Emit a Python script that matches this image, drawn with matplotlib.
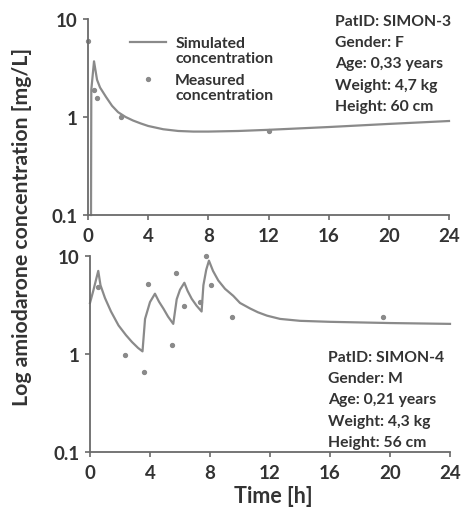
import numpy as np
import matplotlib
matplotlib.use("Agg")
import matplotlib.pyplot as plt

# SIMON-3: simulated curve and measured points
t_sim3 = [0.2, 0.22, 0.4, 0.6, 0.8, 1.2, 1.6, 2.0, 2.5, 3.0, 3.5, 4.0, 5.0, 6.0,
          7.0, 8.0, 10.0, 12.0, 16.0, 20.0, 24.0]
c_sim3 = [0.1, 1.9, 3.7, 2.4, 2.0, 1.6, 1.3, 1.12, 1.0, 0.92, 0.86, 0.81, 0.75,
          0.72, 0.71, 0.71, 0.72, 0.74, 0.79, 0.85, 0.91]
t_meas3 = [0.0, 0.4, 0.58, 2.2, 12.0]
c_meas3 = [5.9, 1.9, 1.55, 1.0, 0.72]

# SIMON-4: repeated dosing
t_sim4 = [0.0, 0.22, 0.55, 0.7, 1.0, 1.4, 1.9, 2.4, 2.8, 3.2, 3.5,
          3.67, 4.0, 4.33, 4.6, 4.9, 5.2, 5.55,
          5.78, 6.0, 6.29, 6.5, 6.78, 7.1, 7.44,
          7.56, 7.75, 7.93, 8.2, 8.55, 9.0, 9.55, 10.0, 10.67, 11.2, 11.8,
          12.67, 14.0, 16.0, 20.0, 24.0]
c_sim4 = [3.3, 4.4, 7.0, 5.0, 3.7, 2.7, 1.95, 1.55, 1.32, 1.15, 1.06,
          2.27, 3.37, 4.1, 3.4, 2.88, 2.4, 2.02,
          3.6, 4.5, 5.3, 4.4, 3.64, 3.1, 2.7,
          5.0, 7.2, 8.9, 7.0, 5.6, 4.6, 3.9, 3.3, 2.9, 2.65, 2.45,
          2.27, 2.17, 2.12, 2.06, 2.02]
t_meas4 = [0.55, 2.33, 3.6, 3.84, 5.49, 5.71, 6.27, 7.33, 7.71, 8.07, 9.45, 19.5]
c_meas4 = [4.8, 0.98, 0.66, 5.2, 1.22, 6.6, 3.1, 3.4, 10.0, 5.0, 2.37, 2.4]

info3 = ["PatID: SIMON-3", "Gender: F", "Age: 0,33 years", "Weight: 4,7 kg",
         "Height: 60 cm"]
info4 = ["PatID: SIMON-4", "Gender: M", "Age: 0,21 years", "Weight: 4,3 kg",
         "Height: 56 cm"]

xticks = [0, 4, 8, 12, 16, 20, 24]
yticks = [0.1, 1, 10]
ytick_labels = ["0.1", "1", "10"]

line_col = "#8a8a8a"
axis_col = "#6a6a6a"
text_col = "#333333"
font = "Lato"

W, H = 467, 510
fig = plt.figure(figsize=(W / 100, H / 100), dpi=100)


def px_axes(x0, y0, x1, y1):
    return fig.add_axes([x0 / W, 1 - y1 / H, (x1 - x0) / W, (y1 - y0) / H])


def style(ax):
    ax.set_yscale("log")
    ax.set_xlim(0, 24)
    ax.set_ylim(0.1, 10)
    ax.set_xticks(xticks)
    ax.set_xticklabels([str(x) for x in xticks])
    ax.set_yticks(yticks)
    ax.set_yticklabels(ytick_labels)
    ax.yaxis.set_minor_locator(matplotlib.ticker.NullLocator())
    for s in ["top", "right"]:
        ax.spines[s].set_visible(False)
    for s in ["left", "bottom"]:
        ax.spines[s].set_color(axis_col)
        ax.spines[s].set_linewidth(1.3)
    ax.tick_params(colors=axis_col, length=3.5, width=1.2,
                   labelcolor=text_col, labelsize=13.5)
    ax.tick_params(axis="x", pad=5.5)
    ax.tick_params(axis="y", pad=4)
    for lab in ax.get_xticklabels() + ax.get_yticklabels():
        lab.set_fontfamily(font)
        lab.set_fontweight("bold")
    ax.patch.set_alpha(0)


ax1 = px_axes(88, 20, 449, 216)
ax1.plot(t_sim3, c_sim3, color=line_col, lw=1.6, label="Simulated\nconcentration",
         clip_on=False)
ax1.plot(t_meas3, c_meas3, ls="none", marker="o", ms=2.8, color=line_col,
         label="Measured\nconcentration", clip_on=False)
style(ax1)
leg = ax1.legend(loc="upper left", bbox_to_anchor=(0.1, 0.945), frameon=False,
                 prop={"family": font, "weight": "bold", "size": 11.3},
                 handlelength=2.3, handletextpad=0.55, labelspacing=0.55,
                 borderaxespad=0)
for t in leg.get_texts():
    t.set_color(text_col)
    t.set_linespacing(1.05)
# put each legend symbol next to the first line of its label
for col in leg._legend_handle_box.get_children():
    for row in col.get_children():
        row.align = "top"

ax2 = px_axes(90, 256.7, 450, 453)
ax2.plot(t_sim4, c_sim4, color=line_col, lw=1.6, clip_on=False)
ax2.plot(t_meas4, c_meas4, ls="none", marker="o", ms=2.8, color=line_col,
         clip_on=False)
style(ax2)

for i, s in enumerate(info3):
    fig.text(335 / W, 1 - (22 + 21.2 * i) / H, s, family=font, weight="bold",
             size=11.3, color=text_col, va="center", ha="left")
for i, s in enumerate(info4):
    fig.text(328 / W, 1 - (358 + 21.2 * i) / H, s, family=font, weight="bold",
             size=11.3, color=text_col, va="center", ha="left")

fig.text(22 / W, 1 - 227 / H, "Log amiodarone concentration [mg/L]", family=font,
         weight="bold", size=15.3, color=text_col, rotation=90, va="center",
         ha="center")
fig.text(273 / W, 1 - 497 / H, "Time [h]", family=font, weight="bold", size=15.5,
         color=text_col, va="center", ha="center")

fig.savefig("out.png", dpi=100)
